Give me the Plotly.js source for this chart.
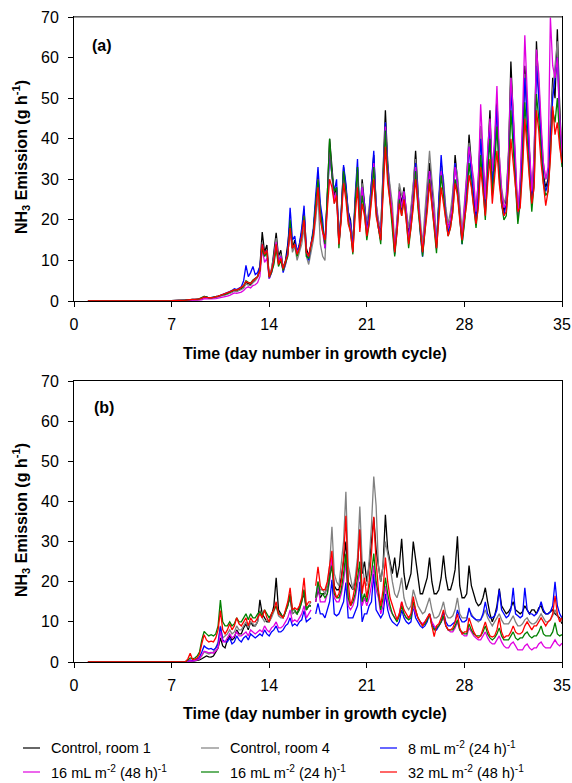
<!DOCTYPE html>
<html>
<head>
<meta charset="utf-8">
<script src="https://cdn.plot.ly/plotly-3.0.1.min.js"></script>
<style>
  html, body { margin: 0; padding: 0; background: #ffffff; }
  #chart { width: 572px; height: 783px; }
</style>
</head>
<body>
<div id="chart"></div>
<script>
// NH3 emission per room. Days 1-7 are daily values (quiet start of the cycle);
// from day 8 on each row holds one day of 4-hourly values (0, 4, 8, 12, 16, 20 h).

const seriesNames = [
  "Control, room 1",
  "Control, room 4",
  "8 mL m<sup>-2</sup> (24 h)<sup>-1</sup>",
  "16 mL m<sup>-2</sup> (48 h)<sup>-1</sup>",
  "16 mL m<sup>-2</sup> (24 h)<sup>-1</sup>",
  "32 mL m<sup>-2</sup> (48 h)<sup>-1</sup>"
];
const seriesColors = ["#000000", "#808080", "#0000ff", "#e000e0", "#008000", "#ff0000"];

const xTicks = [0, 7, 14, 21, 28, 35];
const yTicks = [0, 10, 20, 30, 40, 50, 60, 70];

// ---- Panel (a) ----
const a_control1 = [
  0,0,0,0,0,0,0.1,
  0.2,0.2,0.3,0.3,0.3,0.3,
  0.4,0.6,1.0,0.9,0.7,0.7,
  0.8,0.9,1.1,1.3,1.4,1.6,
  1.8,2.0,2.3,2.6,2.4,2.7,
  3.0,3.4,4.6,4.2,4.0,4.8,
  5.5,6.0,8.5,17.0,12.0,13.8,
  6.0,7.5,12.0,16.8,11.0,12.5,
  8.0,10.0,14.0,19.5,13.0,15.0,
  12.0,14.0,17.0,22.5,13.0,11.0,
  14.0,17.0,24.0,31.0,22.0,18.0,
  14.0,26.0,40.0,33.0,26.0,28.0,
  15.0,22.0,33.0,28.0,22.0,20.0,
  14.0,24.0,33.0,21.0,30.0,24.0,
  18.0,22.0,30.0,36.0,24.0,19.0,
  17.0,30.0,47.0,34.0,27.0,22.0,
  13.0,19.0,28.0,24.0,28.0,22.0,
  16.0,22.0,28.0,37.0,26.0,18.0,
  12.0,20.0,27.0,34.0,28.0,21.0,
  14.0,24.0,34.0,29.0,22.0,18.0,
  20.0,25.0,36.0,30.0,22.0,15.0,
  22.0,30.0,41.0,33.0,27.0,21.0,
  30.0,43.0,33.0,24.0,36.0,47.0,
  30.0,38.0,50.0,34.0,26.0,22.0,
  25.0,36.0,59.0,44.0,32.0,20.0,
  28.0,40.0,58.0,47.0,35.0,26.0,
  34.0,64.0,52.0,40.0,31.0,28.0,
  30.0,42.0,55.0,50.0,67.0,48.0,
  35.0
];
const a_control4 = [
  0,0,0,0,0,0,0.1,
  0.1,0.2,0.2,0.3,0.3,0.3,
  0.3,0.5,0.9,0.8,0.7,0.7,
  0.7,0.8,1.0,1.2,1.3,1.5,
  1.6,1.9,2.1,2.5,2.3,2.6,
  2.8,3.2,4.2,3.9,3.8,4.5,
  5.0,5.8,8.0,14.5,11.0,12.5,
  6.5,8.0,11.0,15.5,10.0,11.5,
  8.0,9.5,12.0,17.0,12.0,13.5,
  10.0,12.0,14.0,18.0,11.0,9.0,
  12.0,15.0,20.0,26.0,14.0,11.0,
  10.0,24.0,37.0,31.0,24.0,26.0,
  14.0,21.0,30.0,27.0,21.0,19.0,
  15.0,24.0,31.0,22.0,29.0,23.0,
  19.0,23.0,29.0,34.0,24.0,20.0,
  18.0,31.0,44.0,33.0,28.0,24.0,
  14.0,20.0,29.0,26.0,27.0,23.0,
  18.0,23.0,29.0,35.0,27.0,21.0,
  14.0,22.0,30.0,37.0,30.0,24.0,
  15.0,25.0,33.0,30.0,23.0,19.0,
  22.0,27.0,34.0,31.0,24.0,17.0,
  24.0,31.0,39.0,33.0,28.0,22.0,
  28.0,43.0,34.0,26.0,35.0,44.0,
  30.0,38.0,47.0,36.0,28.0,24.0,
  26.0,37.0,55.0,45.0,33.0,22.0,
  29.0,41.0,56.0,46.0,36.0,27.0,
  35.0,60.0,54.0,42.0,34.0,30.0,
  31.0,44.0,52.0,58.0,64.0,46.0,
  36.0
];
const a_8ml24h = [
  0,0,0,0,0,0,0.1,
  0.2,0.3,0.3,0.4,0.4,0.4,
  0.5,0.7,1.1,1.0,0.8,0.8,
  0.9,1.0,1.2,1.4,1.6,1.8,
  2.0,2.3,2.6,3.0,2.8,3.2,
  3.5,5.0,8.8,6.0,7.0,8.5,
  6.5,7.0,8.5,14.0,11.5,12.5,
  5.5,7.0,10.0,14.0,9.5,11.0,
  7.0,9.0,13.0,23.0,15.0,16.0,
  12.0,14.0,18.0,23.5,12.0,10.0,
  14.0,18.0,26.0,33.0,24.0,20.0,
  13.0,25.0,37.0,31.0,27.0,30.0,
  14.0,22.0,33.5,29.0,22.0,19.0,
  13.0,26.0,35.0,20.0,28.0,24.0,
  17.0,21.0,28.0,37.0,23.0,18.0,
  15.0,30.0,44.0,33.0,25.0,20.0,
  11.5,18.0,26.0,22.0,27.0,21.0,
  15.0,20.0,26.0,34.0,24.0,17.0,
  10.9,18.0,25.0,32.0,26.0,20.0,
  13.0,25.0,36.0,28.0,21.0,17.0,
  19.0,24.0,34.0,28.0,21.0,14.0,
  20.0,28.0,38.0,31.0,25.0,20.0,
  27.0,40.0,31.0,22.0,34.0,44.0,
  28.0,36.0,48.0,33.0,24.0,21.0,
  24.0,34.0,52.0,42.0,30.0,21.0,
  26.0,38.0,55.0,44.0,33.0,25.0,
  32.0,58.0,50.0,39.0,30.0,27.0,
  29.0,40.0,50.0,55.0,60.0,44.0,
  34.0
];
const a_16ml48h = [
  0,0,0,0,0,0,0.05,
  0.1,0.1,0.1,0.2,0.2,0.2,
  0.2,0.3,0.6,0.5,0.5,0.5,
  0.5,0.6,0.7,0.8,1.0,1.1,
  1.2,1.4,1.7,2.0,1.9,2.1,
  2.2,2.6,3.2,3.5,3.2,3.8,
  4.0,4.5,6.0,13.0,9.5,10.5,
  5.5,7.0,9.5,14.5,9.5,11.0,
  7.5,9.0,11.5,18.0,13.0,14.0,
  12.0,13.0,16.0,21.0,12.0,11.0,
  14.0,16.0,23.0,30.0,21.0,17.0,
  13.0,25.0,38.0,31.0,25.0,27.0,
  14.0,21.0,31.0,27.0,21.0,18.0,
  12.0,24.0,32.0,19.0,28.0,23.0,
  17.0,20.0,27.0,34.0,23.0,19.0,
  15.0,29.0,43.0,32.0,26.0,21.0,
  12.0,19.0,27.0,23.0,27.0,22.0,
  15.0,20.0,27.0,33.0,25.0,19.0,
  12.0,19.0,25.0,32.0,26.0,21.0,
  13.0,23.0,32.0,27.0,21.0,18.0,
  20.0,24.0,33.0,29.0,22.0,15.0,
  23.0,30.0,38.0,34.0,30.0,22.0,
  30.0,48.5,35.0,25.0,37.0,45.0,
  32.0,40.0,53.0,36.0,27.0,23.0,
  24.0,36.0,55.0,47.0,35.0,21.0,
  30.0,45.0,65.5,50.0,38.0,27.0,
  36.0,62.0,56.0,44.0,34.0,30.0,
  33.0,70.0,58.0,55.0,60.0,45.0,
  36.0
];
const a_16ml24h = [
  0,0,0,0,0,0,0.1,
  0.2,0.3,0.3,0.4,0.4,0.4,
  0.6,0.8,1.1,1.0,0.8,0.8,
  0.9,1.0,1.2,1.4,1.5,1.7,
  1.9,2.2,2.5,2.8,2.7,2.9,
  3.2,3.8,5.0,4.6,4.4,5.2,
  5.5,6.0,7.5,13.0,11.0,12.0,
  5.8,7.0,9.0,13.0,8.5,10.0,
  7.5,9.0,11.0,20.0,13.0,14.0,
  11.0,13.0,16.0,21.0,11.0,10.5,
  14.0,17.0,24.0,30.0,22.0,18.0,
  14.0,26.0,40.0,31.0,27.0,28.0,
  13.0,21.0,32.0,27.0,20.0,17.0,
  11.5,24.0,33.0,18.0,26.0,22.0,
  15.0,19.0,26.0,33.0,22.0,18.0,
  14.0,28.0,42.0,31.0,24.0,19.0,
  11.0,17.0,25.0,21.0,25.0,20.0,
  13.0,18.0,24.0,32.0,23.0,17.0,
  11.0,17.0,23.0,30.0,24.0,18.0,
  11.8,22.0,31.0,26.0,20.0,16.0,
  18.0,22.0,30.0,27.0,20.0,14.0,
  19.0,25.0,34.0,29.0,23.0,18.0,
  24.0,36.0,28.0,20.0,31.0,40.0,
  26.0,33.0,43.0,31.0,24.0,20.0,
  21.0,30.0,47.0,38.0,28.0,19.0,
  24.0,34.0,49.0,40.0,30.0,22.0,
  29.0,51.0,45.0,36.0,29.0,26.0,
  27.0,36.0,47.0,44.0,50.0,40.0,
  33.0
];
const a_32ml48h = [
  0,0,0,0,0,0,0.1,
  0.2,0.3,0.3,0.4,0.4,0.4,
  0.5,0.7,1.0,0.9,0.8,0.8,
  0.9,1.0,1.2,1.4,1.6,1.8,
  2.0,2.2,2.5,2.8,2.7,3.0,
  3.3,3.8,4.8,4.5,4.3,5.0,
  5.5,6.0,7.5,14.0,11.5,12.5,
  6.0,7.5,10.0,14.0,9.0,10.5,
  8.0,9.5,11.5,18.0,13.0,14.0,
  11.5,13.0,16.0,20.0,12.0,11.0,
  14.0,16.0,22.0,28.0,20.0,17.0,
  15.0,22.0,30.0,28.0,24.0,26.0,
  14.0,20.0,29.0,25.0,19.0,17.0,
  12.0,21.0,28.0,17.0,24.0,21.0,
  16.0,19.0,24.0,30.0,21.0,18.0,
  15.0,26.0,38.0,29.0,24.0,20.0,
  12.0,17.0,24.0,21.0,25.0,20.0,
  14.0,18.0,23.0,30.0,23.0,18.0,
  12.0,17.0,22.0,29.0,24.0,19.0,
  13.0,20.0,28.0,24.0,20.0,16.0,
  18.0,22.0,29.0,26.0,20.0,15.0,
  20.0,24.0,31.0,28.0,23.0,19.0,
  23.0,33.0,27.0,21.0,29.0,35.0,
  24.0,30.0,37.0,29.0,24.0,21.0,
  22.0,29.0,40.0,34.0,27.0,22.0,
  23.0,32.0,45.0,37.0,30.0,24.0,
  28.0,47.0,42.0,34.0,28.0,23.5,
  27.0,35.0,48.0,41.0,44.0,38.0,
  34.0
];

// ---- Panel (b) ---- (no record at day 17 + 4 h)
const b_control1 = [
  0,0,0,0,0,0,0.1,
  0.1,0.1,0.2,0.2,0.3,0.4,
  0.5,0.8,1.2,1.5,1.3,1.2,
  1.5,2.5,3.5,6.0,4.0,3.5,
  5.5,6.5,5.5,6.0,8.0,7.0,
  7.0,8.5,9.5,8.0,10.0,9.0,
  9.0,10.0,15.5,12.0,11.0,10.0,
  10.0,11.5,14.0,21.0,13.0,12.0,
  11.0,12.5,14.0,16.0,12.0,12.5,
  12.0,13.5,15.0,17.0,13.0,14.0,
  14.0,null,15.0,18.0,16.0,17.0,
  17.0,19.0,22.0,25.0,19.0,18.0,
  18.0,21.0,25.0,30.0,20.0,19.0,
  18.0,20.0,24.0,33.0,22.0,25.0,
  20.0,24.0,30.0,36.0,28.0,24.0,
  20.0,24.0,36.7,28.0,25.0,22.0,
  26.0,21.0,24.0,30.7,22.0,18.0,
  20.0,22.0,30.0,26.0,21.0,17.0,
  17.0,19.0,21.0,26.0,20.0,17.0,
  17.0,18.0,21.0,26.5,21.0,18.0,
  18.0,20.0,23.0,31.3,19.0,16.0,
  16.0,17.0,24.0,19.0,17.0,15.0,
  14.0,14.5,16.0,18.5,15.0,12.0,
  10.0,11.5,14.0,18.3,14.0,13.0,
  12.0,12.5,13.5,15.0,13.0,12.5,
  12.0,12.5,14.0,13.0,12.0,13.0,
  13.0,12.0,13.5,14.0,12.5,12.0,
  12.0,12.5,13.0,12.0,11.5,11.0,
  9.5
];
const b_control4 = [
  0,0,0,0,0,0,0.1,
  0.1,0.1,0.2,0.3,0.4,0.6,
  0.8,1.5,2.5,2.2,2.0,2.2,
  2.5,3.5,5.0,9.0,6.0,6.5,
  7.0,8.0,7.0,7.5,9.0,8.0,
  8.0,9.0,10.0,8.5,10.0,9.5,
  9.0,10.0,13.0,11.0,10.0,10.5,
  10.0,11.0,12.5,14.0,11.5,11.0,
  11.0,12.5,14.0,17.0,12.0,12.5,
  12.0,13.0,15.0,18.0,13.0,14.0,
  15.0,null,16.0,20.0,18.0,18.0,
  17.0,19.0,24.0,33.7,22.0,20.0,
  19.0,24.0,30.0,42.4,24.0,21.0,
  18.0,21.0,26.0,38.7,25.0,20.0,
  19.0,25.0,34.0,46.2,39.0,24.0,
  20.0,24.0,30.0,27.0,24.0,20.0,
  17.0,16.0,18.0,21.0,16.0,14.0,
  13.0,14.0,18.0,16.0,14.0,13.0,
  12.0,12.5,14.0,16.0,13.0,11.0,
  11.0,11.5,13.0,15.0,12.0,11.0,
  11.0,11.5,13.0,16.0,12.0,11.0,
  11.0,11.0,13.0,12.0,11.0,10.5,
  10.0,10.5,11.5,13.0,11.0,10.0,
  9.0,10.0,11.0,12.0,10.5,9.5,
  9.5,9.5,10.5,11.5,10.0,9.0,
  9.0,9.5,10.5,11.0,10.0,9.5,
  9.5,10.0,11.0,12.0,11.0,10.0,
  10.0,10.5,11.5,13.0,11.5,10.5,
  10.0
];
const b_8ml24h = [
  0,0,0,0,0,0,0.1,
  0.1,0.2,0.5,0.3,0.4,0.7,
  1.2,2.5,4.0,3.5,3.2,3.4,
  3.0,3.5,4.5,8.8,5.5,5.0,
  5.0,6.0,4.5,5.0,6.5,5.5,
  5.0,6.0,6.5,5.5,7.0,6.5,
  6.0,6.5,7.0,6.5,8.0,7.0,
  6.5,7.5,8.0,9.0,7.5,7.5,
  8.0,9.0,9.5,11.0,9.0,9.5,
  9.0,10.0,10.5,12.8,10.0,10.5,
  11.0,null,12.0,14.6,12.0,12.0,
  11.0,13.0,15.0,20.5,12.0,11.5,
  12.0,13.5,15.0,19.8,11.0,11.0,
  11.0,12.5,14.0,20.0,10.0,12.0,
  12.0,14.0,15.0,22.0,13.0,12.0,
  11.0,12.0,17.0,13.0,11.0,10.0,
  9.5,9.0,10.0,13.0,11.0,10.0,
  9.5,10.0,14.0,11.0,10.0,9.0,
  8.5,9.0,10.0,12.0,9.5,8.5,
  8.0,9.0,10.0,12.5,10.0,9.0,
  9.0,9.5,10.0,13.0,11.0,10.0,
  10.0,10.5,13.5,11.5,11.0,10.5,
  10.5,10.5,12.0,15.0,12.0,11.0,
  11.0,11.5,13.0,18.0,13.0,12.0,
  11.0,11.5,13.0,18.5,12.0,11.5,
  11.0,11.5,18.5,13.0,12.0,12.0,
  11.5,12.0,13.0,15.0,13.0,12.0,
  12.0,12.5,14.0,20.0,14.0,12.0,
  11.0
];
const b_16ml48h = [
  0,0,0,0,0,0,0.1,
  0.1,0.2,0.3,0.2,0.3,0.5,
  0.8,1.8,2.7,2.5,2.3,2.4,
  2.2,2.8,3.5,7.6,5.0,5.0,
  6.0,7.0,6.0,6.5,7.5,6.5,
  6.5,7.0,7.5,6.5,8.0,7.5,
  7.0,7.5,8.0,7.5,9.0,8.0,
  7.5,8.5,9.0,10.0,8.5,8.5,
  9.0,10.0,11.0,13.0,10.0,10.5,
  10.0,11.0,12.0,14.0,11.0,12.0,
  13.0,null,15.0,19.0,15.0,15.0,
  15.0,17.0,20.0,26.0,16.0,15.0,
  15.0,17.0,20.0,25.0,14.0,13.0,
  14.0,16.0,19.0,23.0,14.0,16.0,
  14.0,16.0,19.0,24.0,18.0,16.0,
  12.0,14.0,19.0,15.0,13.0,12.0,
  11.0,10.5,12.0,15.0,12.0,11.0,
  11.0,11.5,14.0,12.0,11.0,10.0,
  9.5,10.0,11.0,12.0,10.0,9.0,
  8.5,9.0,10.0,11.0,9.0,8.0,
  7.5,7.5,8.5,10.0,8.0,7.0,
  6.5,6.5,8.5,7.5,6.5,6.0,
  5.5,5.5,6.5,7.5,6.0,5.0,
  4.5,4.5,5.5,6.5,5.0,4.0,
  3.5,3.5,4.5,5.0,4.0,3.0,
  3.0,3.0,4.0,4.5,3.5,3.0,
  3.5,3.5,4.5,5.0,4.0,3.5,
  3.5,3.5,4.5,5.5,4.5,4.0,
  4.7
];
const b_16ml24h = [
  0,0,0,0,0,0,0.1,
  0.1,0.5,1.0,0.8,1.0,1.5,
  2.5,5.5,7.6,7.0,6.5,6.8,
  6.5,7.0,9.0,15.4,10.0,9.0,
  9.0,10.0,9.0,9.5,11.0,10.0,
  10.0,11.0,12.0,10.5,12.0,11.0,
  11.0,12.0,12.5,11.5,13.0,12.0,
  11.0,12.0,13.0,14.0,12.0,12.0,
  11.0,12.5,14.0,17.0,13.0,13.0,
  12.0,13.0,15.0,18.0,13.0,14.0,
  14.0,null,16.0,20.0,17.0,17.0,
  16.0,17.0,21.0,24.0,17.0,16.0,
  16.0,18.0,22.0,27.0,16.0,14.0,
  15.0,17.0,21.0,25.0,15.0,17.0,
  15.0,18.0,22.0,27.0,20.0,17.0,
  13.0,16.0,21.0,17.0,14.0,12.0,
  11.0,10.0,11.5,14.0,12.0,11.0,
  10.5,11.0,15.0,13.0,11.0,10.0,
  9.0,9.5,10.5,12.0,9.0,8.0,
  8.5,9.0,10.0,11.5,9.0,8.0,
  8.0,8.0,9.0,10.5,8.0,7.5,
  7.0,7.0,9.5,8.0,7.0,6.5,
  6.5,6.5,7.5,9.0,7.0,6.0,
  5.5,6.0,7.0,8.5,6.5,5.5,
  5.5,5.5,6.5,7.5,6.0,5.5,
  6.0,6.0,7.0,7.5,6.5,6.0,
  6.5,6.5,7.5,9.0,7.0,6.5,
  6.5,6.5,7.5,9.8,7.0,6.5,
  6.8
];
const b_32ml48h = [
  0,0,0,0,0,0,0.1,
  0.1,0.8,2.2,0.6,0.7,1.0,
  2.0,4.5,6.8,5.5,5.0,5.2,
  5.0,6.0,8.0,12.8,8.0,7.0,
  8.0,9.5,8.0,9.0,11.0,9.5,
  9.0,10.0,11.0,9.0,11.0,10.0,
  10.0,11.0,12.0,11.0,13.0,11.0,
  10.0,12.0,13.0,15.0,12.0,11.5,
  11.0,13.0,15.0,18.5,13.0,13.5,
  13.0,14.0,16.0,21.0,14.0,15.0,
  15.0,null,19.0,23.7,19.0,18.0,
  18.0,20.0,24.0,27.7,18.0,16.0,
  17.0,20.0,26.0,36.4,20.0,14.0,
  16.0,19.0,24.0,33.0,17.0,21.0,
  16.0,20.0,27.0,36.2,25.0,18.0,
  14.0,18.0,26.0,20.0,16.0,14.0,
  12.0,10.5,12.0,15.0,13.0,12.0,
  11.0,12.0,16.3,13.0,11.0,10.0,
  9.0,10.0,11.0,12.0,9.0,6.3,
  9.0,9.5,11.0,13.0,9.0,8.0,
  8.0,8.5,10.0,12.0,8.5,7.0,
  7.5,7.5,11.0,9.0,7.5,6.5,
  6.0,6.5,8.0,10.0,8.0,6.5,
  6.2,6.5,8.0,11.0,7.5,6.0,
  6.5,6.5,7.5,9.0,7.5,7.0,
  7.0,7.5,9.0,10.0,9.0,8.0,
  9.0,9.0,10.0,11.0,10.0,9.0,
  10.0,10.5,12.0,16.5,12.0,10.0,
  11.0
];

// Time axis: daily points for days 1-7, then every 4 h from day 8 to day 35
const days = [];
for (let d = 1; d <= 7; d++) days.push(d);
for (let i = 0; i <= 27 * 6; i++) days.push(8 + i / 6);

const panelA = [a_control1, a_control4, a_8ml24h, a_16ml48h, a_16ml24h, a_32ml48h];
const panelB = [b_control1, b_control4, b_8ml24h, b_16ml48h, b_16ml24h, b_32ml48h];

const traces = [];
function addPanel(list, xa, ya) {
  list.forEach((vals, k) => {
    traces.push({
      type: "scatter", mode: "lines",
      x: days, y: vals, xaxis: xa, yaxis: ya,
      name: seriesNames[k], showlegend: false,
      connectgaps: false,
      line: { color: seriesColors[k], width: 1.3 },
      hoverinfo: "skip"
    });
  });
}
addPanel(panelA, "x", "y");
addPanel(panelB, "x2", "y2");

const FONT = "Arial, 'Liberation Sans', sans-serif";

// Pixel-to-paper helpers for the fixed 572x783 canvas
const L = 74, R = 10, T = 17, B = 121;
const PW = 572 - L - R, PH = 783 - T - B;
const px = x => (x - L) / PW;
const py = y => (783 - B - y) / PH;

const xAxisBase = {
  range: [0, 35], tickvals: xTicks, ticks: "outside", ticklen: 5, tickwidth: 1,
  tickcolor: "#000", showline: true, linecolor: "#000", linewidth: 1, mirror: true,
  showgrid: false, zeroline: false, ticklabelstandoff: 4,
  tickfont: { family: FONT, size: 16, color: "#000" }, fixedrange: true
};
const yAxisBase = {
  range: [0, 70], tickvals: yTicks, ticks: "outside", ticklen: 5, tickwidth: 1,
  tickcolor: "#000", showline: true, linecolor: "#000", linewidth: 1, mirror: true,
  showgrid: false, zeroline: false, ticklabelstandoff: 6,
  tickfont: { family: FONT, size: 16, color: "#000" }, fixedrange: true
};

const annotations = [
  { text: "<b>(a)</b>", x: px(102), y: py(45) },
  { text: "<b>(b)</b>", x: px(104), y: py(408) },
  { text: "<b>NH<sub>3</sub> Emission (g h<sup>-1</sup>)</b>", x: px(21), y: py(157), textangle: -90 },
  { text: "<b>NH<sub>3</sub> Emission (g h<sup>-1</sup>)</b>", x: px(21), y: py(520), textangle: -90 },
  { text: "<b>Time (day number in growth cycle)</b>", x: px(315), y: py(353) },
  { text: "<b>Time (day number in growth cycle)</b>", x: px(315), y: py(713) }
].map(a => Object.assign({
  xref: "paper", yref: "paper", showarrow: false, xanchor: "center", yanchor: "middle",
  font: { family: FONT, size: 16, color: "#000" }
}, a));

// Legend laid out in three columns below panel (b)
const legendCols = [[23, 40, 49], [201, 219, 228], [380, 397, 406]];
const legendRows = [748, 772];
const shapes = [
  // top frame of panel (a)
  { type: "line", xref: "paper", yref: "paper", x0: 0, x1: 1, y0: py(17), y1: py(17),
    line: { color: "#808080", width: 1.5 } }
];
seriesNames.forEach((nm, k) => {
  const col = legendCols[k % 3], row = legendRows[Math.floor(k / 3)];
  shapes.push({ type: "line", xref: "paper", yref: "paper",
    x0: px(col[0]), x1: px(col[1]), y0: py(row), y1: py(row),
    line: { color: seriesColors[k], width: 1.2 } });
  annotations.push({ text: nm, xref: "paper", yref: "paper", showarrow: false,
    x: px(col[2]), y: py(row), xanchor: "left", yanchor: "middle",
    font: { family: FONT, size: 14.5, color: "#000" } });
});

const layout = {
  width: 572, height: 783,
  margin: { l: L, r: R, t: T, b: B },
  paper_bgcolor: "#ffffff", plot_bgcolor: "#ffffff",
  showlegend: false,
  xaxis: Object.assign({}, xAxisBase, { anchor: "y", domain: [0, 1] }),
  yaxis: Object.assign({}, yAxisBase, { anchor: "x", domain: [py(301), 1] }),
  xaxis2: Object.assign({}, xAxisBase, { anchor: "y2", domain: [0, 1] }),
  yaxis2: Object.assign({}, yAxisBase, { anchor: "x2", domain: [0, py(381)] }),
  annotations: annotations,
  shapes: shapes
};

Plotly.newPlot("chart", traces, layout, { staticPlot: true, displayModeBar: false });
</script>
</body>
</html>
